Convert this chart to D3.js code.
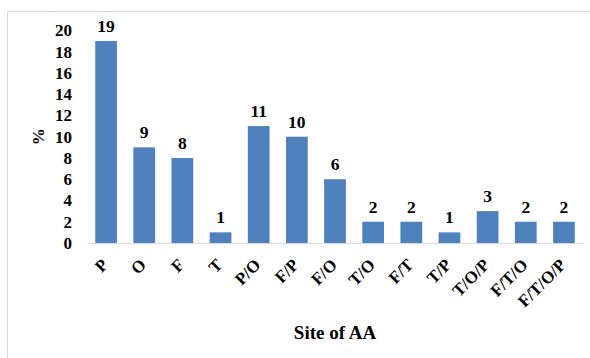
<!DOCTYPE html>
<html>
<head>
<meta charset="utf-8">
<script src="https://cdn.jsdelivr.net/npm/d3@7"></script>
<style>
  html, body { margin: 0; padding: 0; background: #fff; }
  svg { display: block; }
</style>
</head>
<body>
<div id="chart"></div>
<script>
// Share of cases by site of AA
const sites = ["P", "O", "F", "T", "P/O", "F/P", "F/O", "T/O", "F/T", "T/P", "T/O/P", "F/T/O", "F/T/O/P"];
const percents = [19, 9, 8, 1, 11, 10, 6, 2, 2, 1, 3, 2, 2];
const yTicks = [0, 2, 4, 6, 8, 10, 12, 14, 16, 18, 20];

const width = 590, height = 358;
const plot = { left: 87, right: 583, top: 30.4, bottom: 243 };
const FONT = '"Liberation Serif"';

const svg = d3.select("#chart").append("svg")
  .attr("width", width).attr("height", height);

function serif(sel, size) {
  sel.attr("font-family", null)
    .style("font-family", FONT)
    .style("font-weight", "bold")
    .style("font-size", size + "px")
    .style("fill", "#000");
}

// chart frame
svg.append("rect")
  .attr("x", 7.5).attr("y", 11.5)
  .attr("width", 600).attr("height", 400)
  .attr("fill", "none").attr("stroke", "#d9d9d9").attr("stroke-width", 1);

const x = d3.scaleBand()
  .domain(sites)
  .range([plot.left, plot.right])
  .paddingInner(0.43)
  .paddingOuter(0.215);

const y = d3.scaleLinear()
  .domain([0, 20])
  .range([plot.bottom, plot.top]);

// y axis labels (no line, no ticks)
const yAxis = svg.append("g")
  .attr("transform", `translate(${plot.left - 15},0)`)
  .call(d3.axisLeft(y).tickValues(yTicks).tickSize(0).tickPadding(0));
yAxis.attr("font-family", null).attr("font-size", null);
yAxis.select(".domain").remove();
yAxis.selectAll("text").call(serif, 17);

// bars
svg.append("g").selectAll("rect")
  .data(sites)
  .join("rect")
  .attr("x", d => x(d))
  .attr("y", (d, i) => y(percents[i]))
  .attr("width", x.bandwidth())
  .attr("height", (d, i) => y(0) - y(percents[i]))
  .attr("fill", "#4f81bd");

// value labels
svg.append("g").selectAll("text")
  .data(sites)
  .join("text")
  .attr("x", d => x(d) + x.bandwidth() / 2)
  .attr("y", (d, i) => y(percents[i]) - 9)
  .attr("text-anchor", "middle")
  .call(serif, 17.5)
  .text((d, i) => percents[i]);

// x axis
const xAxis = svg.append("g")
  .attr("transform", `translate(0,${plot.bottom})`)
  .call(d3.axisBottom(x).tickSize(0).tickPadding(0));
xAxis.attr("font-family", null).attr("font-size", null);
xAxis.select(".domain")
  .attr("stroke", "#d9d9d9").attr("stroke-width", 1.2);
xAxis.selectAll("text")
  .call(serif, 17)
  .attr("text-anchor", "end")
  .attr("dy", null)
  .attr("y", 0)
  .attr("transform", "translate(3,23) rotate(-45)");

// axis titles
svg.append("text")
  .attr("transform", `translate(44,${(plot.top + plot.bottom) / 2}) rotate(-90)`)
  .attr("text-anchor", "middle")
  .call(serif, 17)
  .text("%");

svg.append("text")
  .attr("x", (plot.left + plot.right) / 2)
  .attr("y", 339)
  .attr("text-anchor", "middle")
  .call(serif, 19)
  .text("Site of AA");
</script>
</body>
</html>
